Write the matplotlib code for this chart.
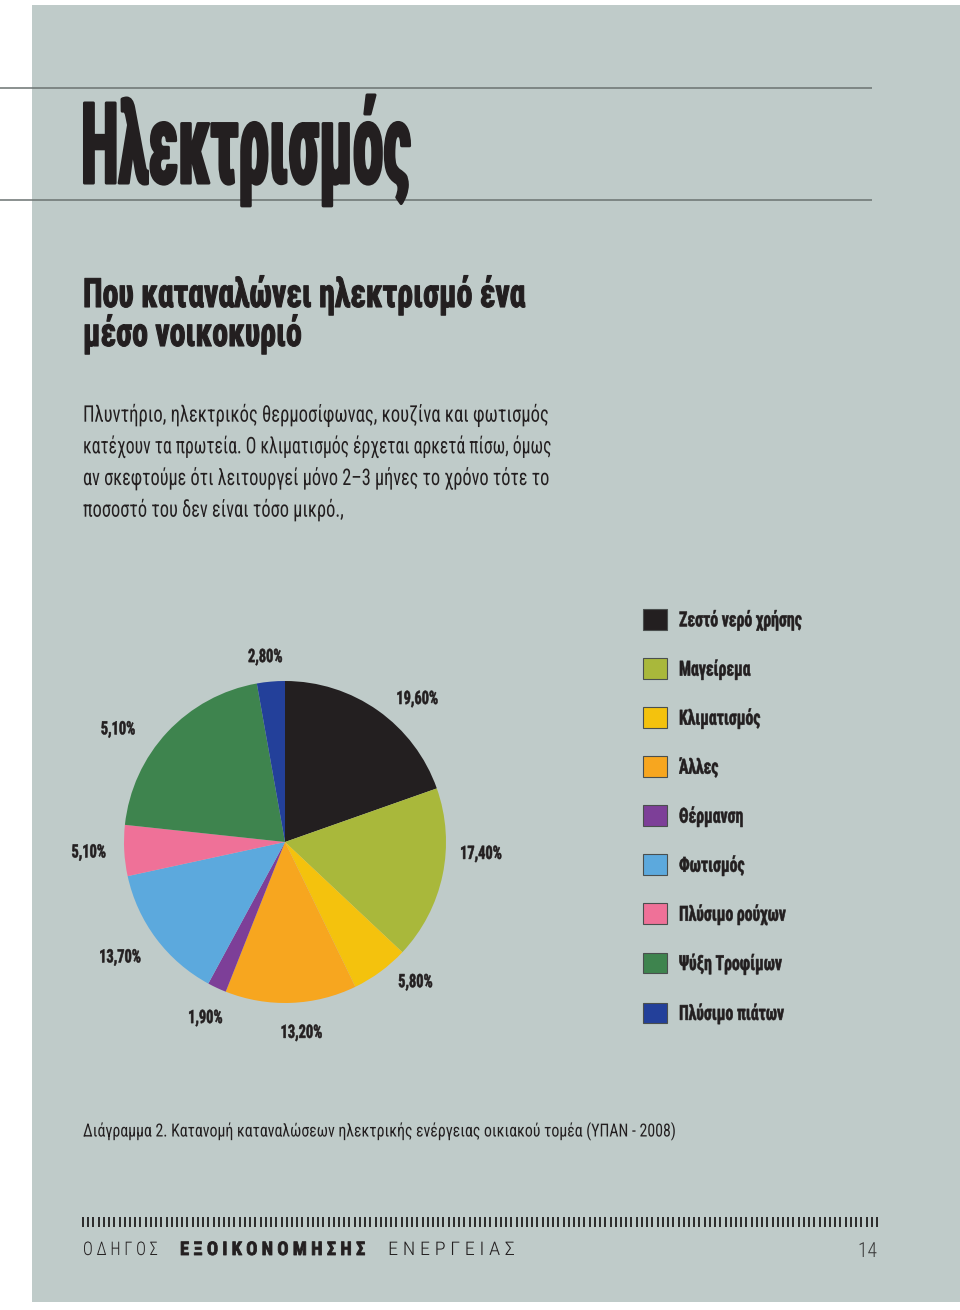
import numpy as np
import matplotlib
matplotlib.use("Agg")
import matplotlib.pyplot as plt
from matplotlib import font_manager
from matplotlib.patches import Rectangle
from matplotlib.patheffects import AbstractPathEffect
from matplotlib.transforms import Affine2D

# ---------------- data ----------------
categories = ["Ζεστό νερό χρήσης", "Μαγείρεμα", "Κλιματισμός", "Άλλες", "Θέρμανση",
              "Φωτισμός", "Πλύσιμο ρούχων", "Ψύξη Τροφίμων", "Πλύσιμο πιάτων"]
values = [19.6, 17.4, 5.8, 13.2, 1.9, 13.7, 5.1, 20.5, 2.8]
value_labels = ["19,60%", "17,40%", "5,80%", "13,20%", "1,90%", "13,70%", "5,10%", "5,10%", "2,80%"]
colors = ["#231f20", "#a9b83b", "#f4c20d", "#f7a61f", "#7d3f98",
          "#5ca9dd", "#ef7198", "#3e844e", "#23409a"]

title = "Ηλεκτρισμός"
subtitle_lines = ["Που καταναλώνει ηλεκτρισμό ένα", "μέσο νοικοκυριό"]
body_lines = ["Πλυντήριο, ηλεκτρικός θερμοσίφωνας, κουζίνα και φωτισμός",
              "κατέχουν τα πρωτεία. Ο κλιματισμός έρχεται αρκετά πίσω, όμως",
              "αν σκεφτούμε ότι λειτουργεί μόνο 2–3 μήνες το χρόνο τότε το",
              "ποσοστό του δεν είναι τόσο μικρό.,"]
caption = "Διάγραμμα 2. Κατανομή καταναλώσεων ηλεκτρικής ενέργειας οικιακού τομέα (ΥΠΑΝ - 2008)"
footer_parts = ["ΟΔΗΓΟΣ", "ΕΞΟΙΚΟΝΟΜΗΣΗΣ", "ΕΝΕΡΓΕΙΑΣ"]
page_number = "14"

# label placement style (angular nudge from wedge middle, radial distance)
label_nudge_deg = [-7.5, 8.4, 6.6, 2.8, 0.7, -1.9, 0.0, 9.0, 1.0]
label_radius = [1.21, 1.22, 1.19, 1.19, 1.20, 1.25, 1.22, 1.25, 1.155]

# ---------------- fonts ----------------
avail = {f.name for f in font_manager.fontManager.ttflist}
def pick(*names):
    for n in names:
        if n in avail:
            return n
    return "DejaVu Sans"

HEAVY = pick("Roboto Condensed", "Liberation Sans Narrow", "Open Sans Condensed",
             "DejaVu Sans Condensed", "Roboto", "DejaVu Sans")
REG = pick("Roboto Condensed", "Liberation Sans Narrow", "DejaVu Sans Condensed",
           "Roboto", "DejaVu Sans")
LIGHT = pick("Roboto Condensed", "Open Sans Condensed", "Roboto",
             "Liberation Sans Narrow", "DejaVu Sans")

INK = "#231f20"
PANEL = "#bfcbc9"
RULE = "#6b7371"


class Squeeze(AbstractPathEffect):
    """Horizontally condense glyphs (the text stays a normal Text artist)."""
    def __init__(self, sx, anchor="left", stroke=0.0):
        super().__init__()
        self.sx, self.anchor, self.stroke = sx, anchor, stroke

    def draw_path(self, renderer, gc, tpath, affine, rgbFace=None):
        if self.anchor == "center":
            ext = tpath.get_extents()
            cx = 0.5 * (ext.x0 + ext.x1)
        elif self.anchor == "right":
            cx = tpath.get_extents().x1
        else:
            cx = 0.0
        t = Affine2D().translate(-cx, 0).scale(self.sx, 1.0).translate(cx, 0)
        if self.stroke > 0:
            gc0 = renderer.new_gc()
            gc0.copy_properties(gc)
            gc0.set_linewidth(self.stroke)
            gc0.set_foreground(rgbFace)
            gc0.set_joinstyle("round")
            renderer.draw_path(gc0, tpath, t + affine, rgbFace)
            gc0.restore()
        else:
            renderer.draw_path(gc, tpath, t + affine, rgbFace)


W, H = 960, 1310
fig = plt.figure(figsize=(W / 100, H / 100), dpi=100)
fig.patch.set_facecolor("white")
ax = fig.add_axes([0, 0, 1, 1])
ax.set_xlim(0, W)
ax.set_ylim(H, 0)
ax.axis("off")
renderer = fig.canvas.get_renderer()


def fit(texts, target, anchor="left", stroke=0.0):
    w = texts[0].get_window_extent(renderer).width
    sx = target / w
    for t in texts:
        t.set_path_effects([Squeeze(sx, anchor, stroke)])
    return sx


# panel and rules
ax.add_patch(Rectangle((32, 5), W - 32, 1297, facecolor=PANEL, edgecolor="none", zorder=0))
ax.hlines([88.3, 200], 0, 872, colors=RULE, linewidth=1.1, zorder=1)

# title
t_title = ax.text(81, 183, title, fontsize=81, family=[HEAVY, "DejaVu Sans"],
                  weight="bold", color=INK, va="baseline", ha="left")
fit([t_title], 330, stroke=2.2)

# subtitle
subs = [ax.text(83, y, s, fontsize=29, family=[HEAVY, "DejaVu Sans"], weight="bold",
                color=INK, va="baseline", ha="left")
        for s, y in zip(subtitle_lines, [307, 346])]
fit(subs, 442, stroke=0.8)

# body (each line fitted to its measured width in the page)
body_widths = [465, 467, 465, 260]
for s, y, bw in zip(body_lines, [421.7, 453.3, 485.0, 516.7], body_widths):
    t = ax.text(83, y, s, fontsize=16.5, family=[REG, "DejaVu Sans"], weight="normal",
                color=INK, va="baseline", ha="left")
    fit([t], bw)

# pie
R = 161.0
S = 250.0
cx, cy = 285.0, 842.0
pax = fig.add_axes([(cx - S) / W, (H - cy - S) / H, 2 * S / W, 2 * S / H])
wedges, ptexts = pax.pie(values, colors=colors, startangle=90, counterclock=False,
                         labels=value_labels, labeldistance=1.21,
                         wedgeprops=dict(linewidth=0),
                         textprops=dict(fontsize=13.3, family=[HEAVY, "DejaVu Sans"],
                                        weight="bold", color=INK))
pax.set_xlim(-S / R, S / R)
pax.set_ylim(-S / R, S / R)
pax.set_aspect("equal")
pax.axis("off")
for wdg, t, dn, rr in zip(wedges, ptexts, label_nudge_deg, label_radius):
    a = np.deg2rad(0.5 * (wdg.theta1 + wdg.theta2) + dn)
    t.set_position((rr * np.cos(a), rr * np.sin(a)))
    t.set_ha("center")
    t.set_va("center")
fit(list(ptexts), 42, anchor="center", stroke=0.4)

# legend
leg = fig.legend(wedges, categories, loc="upper left",
                 bbox_to_anchor=(643 / W, 1 - 609 / H), bbox_transform=fig.transFigure,
                 frameon=False, borderpad=0, borderaxespad=0,
                 prop=dict(size=15, family=[HEAVY, "DejaVu Sans"], weight="bold"),
                 handlelength=1.15, handleheight=1.15, handletextpad=0.58,
                 labelspacing=1.326, labelcolor=INK)
for h in leg.legend_handles:
    h.set_edgecolor("#4a4f4e")
    h.set_linewidth(0.8)
fit(leg.get_texts(), 123, stroke=0.4)

# caption
t_cap = ax.text(83, 1136.5, caption, fontsize=13, family=[REG, "DejaVu Sans"],
                color=INK, va="baseline", ha="left")
fit([t_cap], 590)

# footer bars
bx = np.linspace(83, 877, 153)
ax.vlines(bx, 1216.5, 1227, colors="#2a2a2a", linewidth=1.4)

# footer text
fx = [83, 180, 388]
fw = [75, 187, 127]
fwt = ["light", "bold", "light"]
for s, x, w, wt in zip(footer_parts, fx, fw, fwt):
    t = ax.text(x, 1255, " ".join(s), fontsize=13.5,
                family=[LIGHT if wt == "light" else HEAVY, "DejaVu Sans"],
                weight=wt, color=INK, va="baseline", ha="left")
    fit([t], w, stroke=0.6 if wt == "bold" else 0.0)

t_pg = ax.text(877, 1257, page_number, fontsize=15, family=[LIGHT, "DejaVu Sans"],
               weight="light", color="#3a3a3a", va="baseline", ha="right")
fit([t_pg], 19, anchor="right")

fig.savefig("out.png", dpi=100, facecolor=fig.get_facecolor())
